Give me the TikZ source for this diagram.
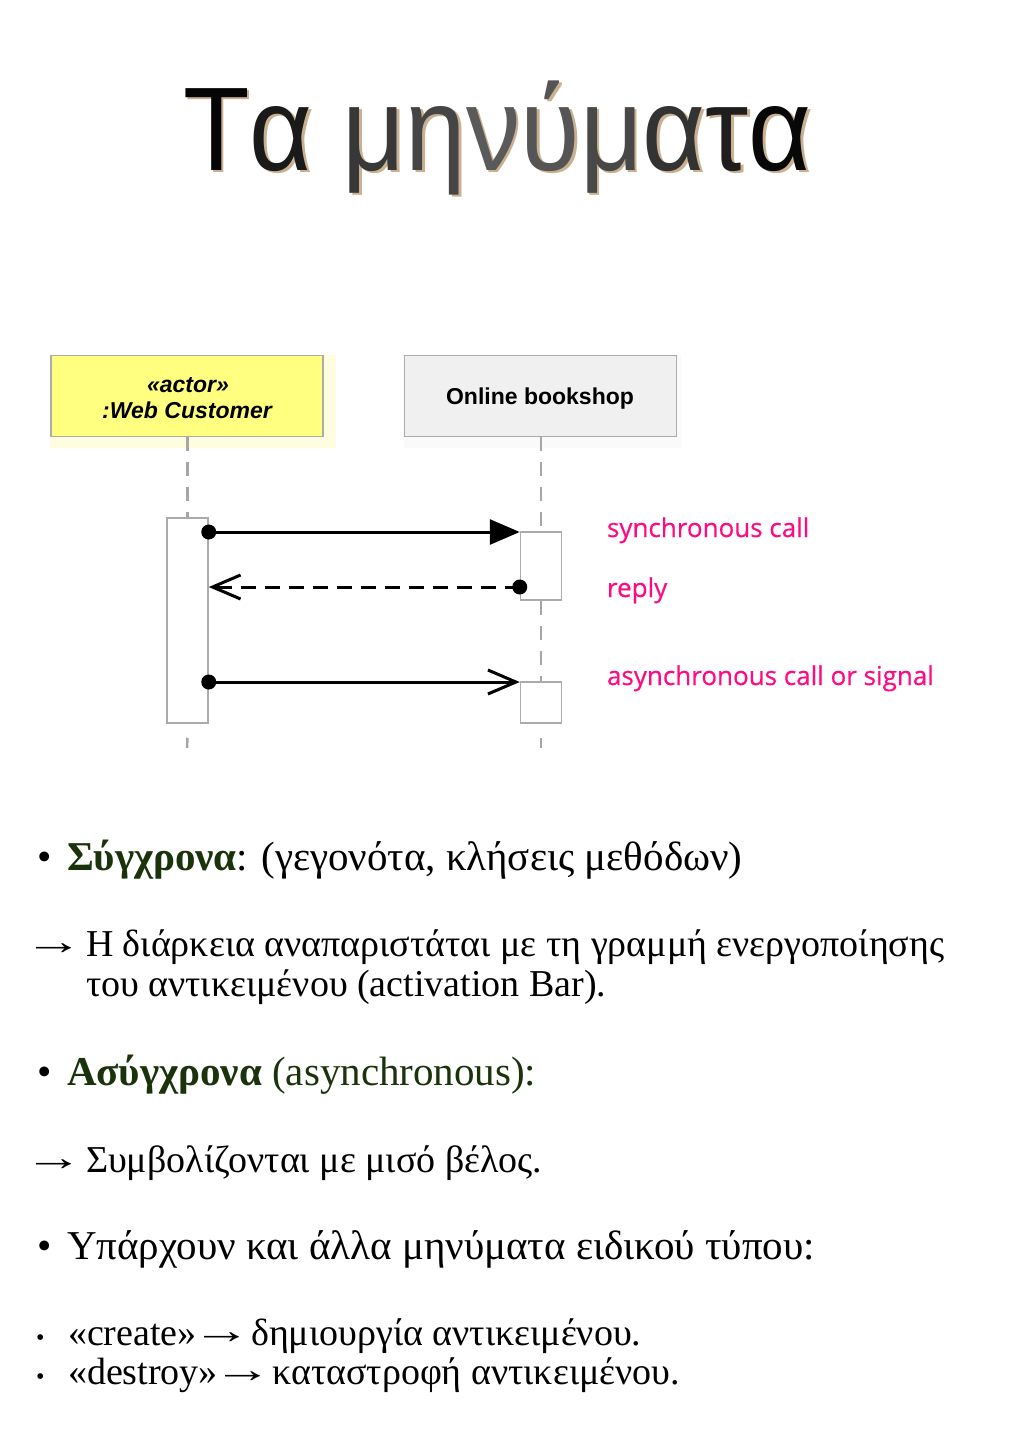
\documentclass[tikz,border=0pt]{standalone}
\usepackage{fontspec}
\setmainfont{Liberation Serif}
\newfontfamily\titlefont[FakeStretch=0.915]{Liberation Sans}
\newfontfamily\umlfont{Liberation Sans}
\newfontfamily\notefont[FakeBold=0.4]{Open Sans}
\usetikzlibrary{arrows.meta}

\definecolor{umlyellow}{HTML}{FFFF80}
\definecolor{umlgrey}{HTML}{F0F0F0}
\definecolor{umlborder}{HTML}{ABABAB}
\definecolor{noteink}{HTML}{FF0A82}
\definecolor{darkgreen}{HTML}{1A330A}
\definecolor{titleshadow}{HTML}{C8B090}

\newcommand{\bodysize}{\fontsize{38}{44}\selectfont}
\newcommand{\bulletsize}{\fontsize{41}{48}\selectfont}
% a long, thin text arrow with its side bearings trimmed
\newcommand{\ra}{\kern-0.355em\raisebox{2pt}{\scalebox{1.55}[1]{→}}\kern-0.26em}
% title letters: each one gets its own shade, or the shadow colour
\newif\ifshadowpass
\newcommand{\tl}[2]{\ifshadowpass\textcolor{titleshadow}{#2}\else\textcolor[HTML]{#1}{#2}\fi}
\newcommand{\titletext}{\tl{050505}{Τ}\tl{1A1A1A}{α} \tl{383838}{μ}\tl{454545}{η}\tl{5A5A5A}{ν}\tl{555555}{ύ}\tl{484848}{μ}\tl{333333}{α}\tl{1E1E1E}{τ}\tl{080808}{α}}

\begin{document}
\begin{tikzpicture}[x=1pt,y=-1pt,
  txt/.style={inner sep=0pt, outer sep=0pt, anchor=base west},
  headbox/.style={draw=umlborder, line width=1.5pt, minimum width=272pt,
    minimum height=81pt, inner sep=0pt},
  actbar/.style={draw=umlborder, fill=white, line width=1.5pt, inner sep=0pt,
    minimum width=41pt},
  lifeline/.style={draw=black!35, line width=2.5pt, dash pattern=on 14pt off 11pt},
  msg/.style={draw=black, line width=3pt},
  dot/.style={fill=black},
  note/.style={txt, text=noteink, font=\notefont\fontsize{26}{30}\selectfont},
  body/.style={txt, font=\bodysize},
  bullet/.style={txt, font=\bulletsize},
  titletxt/.style={inner sep=0pt, anchor=base, font=\titlefont\fontsize{119}{130}\selectfont},
  umllabel/.style={txt, anchor=base, font=\umlfont\bfseries\fontsize{23}{27}\selectfont},
]
\useasboundingbox[fill=white] (0,0) rectangle (1024,1448);

% ---- title with a soft tan drop shadow and a dark-grey-dark ramp ----
\node[titletxt] (titleshadow) at (500,172.5) {\shadowpasstrue\titletext};
\node[titletxt] (title) at (497.5,170) {\shadowpassfalse\titletext};

% ---- lifeline heads (with their faint halos) ----
\fill[yellow!12] (50,355) rectangle (336,448);
\fill[black!2] (404,355) rectangle (681,448);
\node[headbox, fill=umlyellow] (cust) at (187,396) {};
\node[headbox, fill=umlgrey] (shop) at (540.5,396) {};
\node[umllabel, font=\umlfont\bfseries\itshape\fontsize{23}{27}\selectfont]
  (custst) at (188,392) {«actor»};
\node[umllabel, font=\umlfont\bfseries\itshape\fontsize{23}{27}\selectfont]
  (custnm) at (187,418) {:Web Customer};
\node[umllabel] (shopnm) at (540,404) {Online bookshop};

% ---- activation bars ----
\node[actbar, minimum height=205pt] (actL) at (187.5,620.5) {};
\node[actbar, minimum height=68pt] (actR1) at (541,566) {};
\node[actbar, minimum height=41pt] (actR2) at (541,702.5) {};
\coordinate (custEnd) at (187,748);
\coordinate (shopEnd) at (541,748);

% ---- lifelines ----
\draw[lifeline] (cust.south -| actL.north) -- (actL.north);
\draw[lifeline] (shop.south -| actR1.north) -- (actR1.north);
\draw[lifeline] (actR1.south) -- (actR2.north);
\draw[lifeline, dash pattern=on 11pt off 20pt] (actL.south) ++(0,14) coordinate (custLow) -- (custEnd);
\draw[lifeline, dash pattern=on 11pt off 20pt] (actR2.south) ++(0,14) coordinate (shopLow) -- (shopEnd);

% ---- messages ----
\coordinate (syncS) at (actL.east |- 0,532);
\coordinate (syncT) at (actR1.west |- 0,532);
\coordinate (replyS) at (actR1.west |- 0,587);
\coordinate (replyT) at (actL.east |- 0,587);
\coordinate (asyncS) at (actL.east |- 0,682);
\coordinate (asyncT) at (actR2.west |- 0,682);

\draw[msg, -{Triangle[length=30pt,width=25pt]}] (syncS) -- (syncT);
\draw[msg, dash pattern=on 15pt off 9pt, -{Straight Barb[length=28pt,width=24pt]}]
  (replyS) -- (replyT);
\draw[msg, -{Straight Barb[length=28pt,width=24pt]}] (asyncS) -- (asyncT);
\fill[dot] (syncS) circle (7.5pt);
\fill[dot] (replyS) circle (7.5pt);
\fill[dot] (asyncS) circle (7.5pt);

% ---- message kinds ----
\node[note] (lsync) at (607,537) {synchronous call};
\node[note] (lreply) at (607,597) {reply};
\node[note] (lasync) at (607,685) {asynchronous call or signal};

% ---- notes below the diagram ----
\node[bullet] (b1) at (37,870) {•};
\node[bullet] (t1) at (67,870) {\textcolor{darkgreen}{\bfseries Σύγχρονα}: (γεγονότα, κλήσεις μεθόδων)};
\node[body] (a1) at (38,956) {\ra};
\node[body] (t2) at (86,956) {Η διάρκεια αναπαριστάται με τη γραμμή ενεργοποίησης};
\node[body] (t3) at (86,996) {του αντικειμένου (activation Bar).};
\node[bullet] (b2) at (37,1085) {•};
\node[bullet, text=darkgreen] (t4) at (67,1085) {{\bfseries Ασύγχρονα} (asynchronous):};
\node[body] (a2) at (38,1172) {\ra};
\node[body] (t5) at (86,1172) {Συμβολίζονται με μισό βέλος.};
\node[bullet] (b3) at (37,1259) {•};
\node[bullet] (t6) at (67,1259) {Υπάρχουν και άλλα μηνύματα ειδικού τύπου:};
\node[body, font=\fontsize{24}{28}\selectfont] (b4) at (36,1345) {•};
\node[body] (t7) at (68,1345) {«create» \ra{} δημιουργία αντικειμένου.};
\node[body, font=\fontsize{24}{28}\selectfont] (b5) at (36,1384) {•};
\node[body] (t8) at (68,1384) {«destroy» \ra{} καταστροφή αντικειμένου.};
\end{tikzpicture}
\end{document}
